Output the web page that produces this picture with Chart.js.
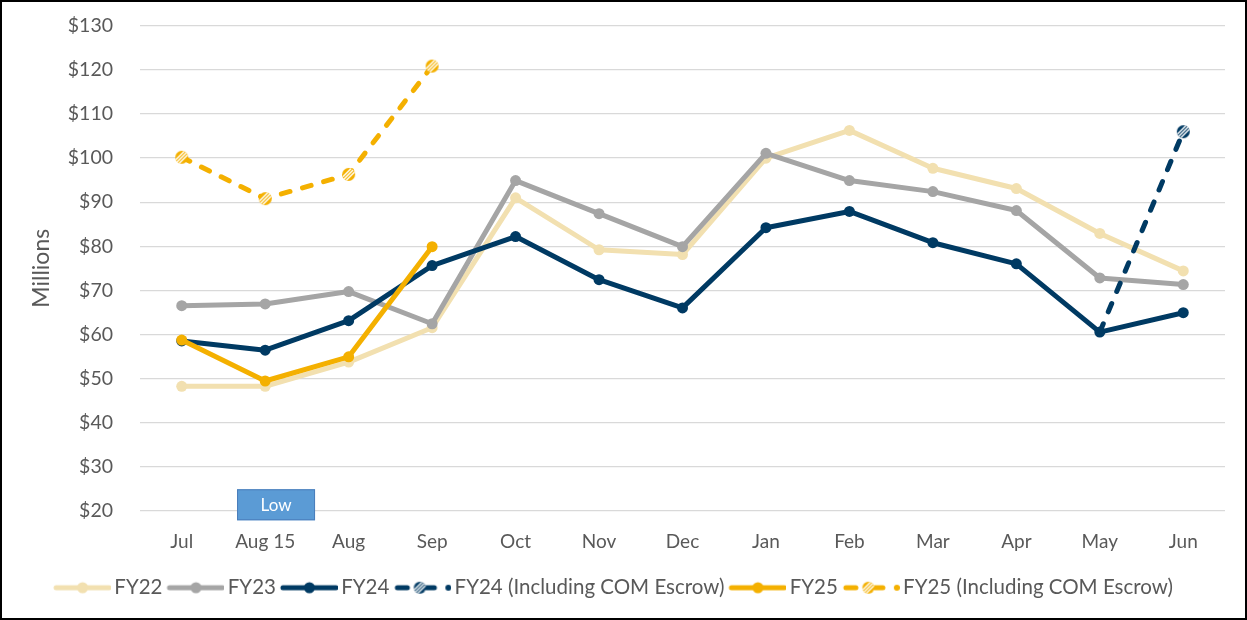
<!DOCTYPE html>
<html>
<head>
<meta charset="utf-8">
<script src="https://cdn.jsdelivr.net/npm/chart.js@4.4.1/dist/chart.umd.min.js"></script>
<style>
  html, body { margin: 0; padding: 0; background: #fff; }
  #frame { width: 1247px; height: 620px; box-sizing: border-box; border: 2px solid #000; }
  canvas { display: block; }
</style>
</head>
<body>
<div id="frame"><canvas id="chart" width="1243" height="616"></canvas></div>
<script>
// ---- data ($ millions) ----
const months = ["Jul", "Aug 15", "Aug", "Sep", "Oct", "Nov", "Dec", "Jan", "Feb", "Mar", "Apr", "May", "Jun"];

const fy22 = [48.2, 48.2, 53.7, 61.5, 91.0, 79.2, 78.1, 100.0, 106.3, 97.7, 93.1, 82.9, 74.4];
const fy23 = [66.5, 66.9, 69.7, 62.4, 94.9, 87.4, 79.9, 101.1, 94.9, 92.4, 88.1, 72.8, 71.3];
const fy24 = [58.5, 56.4, 63.1, 75.6, 82.2, 72.4, 66.0, 84.2, 87.9, 80.8, 76.0, 60.5, 64.9];
const fy24Escrow = [null, null, null, null, null, null, null, null, null, null, null, 60.5, 106.0];
const fy25 = [58.7, 49.4, 54.9, 79.9, null, null, null, null, null, null, null, null, null];
const fy25Escrow = [100.2, 90.8, 96.3, 120.9, null, null, null, null, null, null, null, null, null];

const seriesNames = ["FY22", "FY23", "FY24", "FY24 (Including COM Escrow)", "FY25", "FY25 (Including COM Escrow)"];

const yMin = 20;
const yMax = 130;
const yStep = 10;

const lowNote = { text: "Low", category: "Aug 15", value: 21.3 };

// ---- styling ----
const FONT = "Lato, 'Open Sans', sans-serif";
const TEXT = "#595959";
const C22 = "#F2E0B0";
const C23 = "#A5A5A5";
const C24 = "#003A63";
const C25 = "#F4B000";

// circle with white diagonal stripes, used for the escrow markers
function hatchedDot(color, r) {
  const c = document.createElement("canvas");
  c.width = c.height = r * 2 + 2;
  const g = c.getContext("2d");
  const m = r + 1;
  g.beginPath();
  g.arc(m, m, r, 0, Math.PI * 2);
  g.fillStyle = color;
  g.fill();
  g.save();
  g.clip();
  g.strokeStyle = "#fff";
  g.lineWidth = 1.4;
  for (const off of [-3.5, 0, 3.5]) {
    g.beginPath();
    g.moveTo(m - r + off, m + r);
    g.lineTo(m + r + off, m - r);
    g.stroke();
  }
  g.restore();
  return c;
}

// legend sample: line with marker; extra transparent pad on the left so the
// line runs closer to the label text
function legendSample(color, dashed) {
  const boxW = 50, pad = 7, h = 16;
  const c = document.createElement("canvas");
  c.width = boxW + pad * 2;
  c.height = h;
  const g = c.getContext("2d");
  const y = h / 2;
  const x0 = pad, x1 = pad + 57;
  g.strokeStyle = color;
  g.fillStyle = color;
  g.lineCap = "round";
  g.lineWidth = 5;
  if (!dashed) {
    g.beginPath(); g.moveTo(x0 + 2, y); g.lineTo(x1 - 2, y); g.stroke();
    g.beginPath(); g.arc((x0 + x1) / 2, y, 5.5, 0, Math.PI * 2); g.fill();
  } else {
    g.beginPath(); g.moveTo(x0 + 3, y); g.lineTo(x0 + 13, y); g.stroke();
    g.beginPath(); g.moveTo(x0 + 32, y); g.lineTo(x0 + 40, y); g.stroke();
    g.drawImage(hatchedDot(color, 6), (x0 + x1) / 2 - 7 - 3, y - 7);
    g.beginPath(); g.arc(x1 - 3, y, 3, 0, Math.PI * 2); g.fill();
  }
  return c;
}

const legendImages = [
  legendSample(C22, false),
  legendSample(C23, false),
  legendSample(C24, false),
  legendSample(C24, true),
  legendSample(C25, false),
  legendSample(C25, true),
];

function lineSet(label, data, color, order, dashed) {
  const ds = {
    label: label,
    data: data,
    borderColor: color,
    backgroundColor: color,
    borderWidth: 5,
    pointRadius: 5.5,
    pointHoverRadius: 5.5,
    pointBackgroundColor: color,
    pointBorderColor: color,
    pointBorderWidth: 0,
    borderCapStyle: "round",
    borderJoinStyle: "round",
    tension: 0,
    spanGaps: false,
    order: order,
  };
  if (dashed) {
    ds.borderDash = [9, 13];
    ds.pointStyle = hatchedDot(color, 6.5);
    // first point of the FY24 escrow line sits under the solid series marker
    ds.pointRadius = (ctx) => (ctx.dataIndex === data.findIndex(v => v !== null) && label.startsWith("FY24") ? 0 : 6);
  }
  return ds;
}

const lowNotePlugin = {
  id: "lowNote",
  afterDraw(chart) {
    const { ctx, scales: { x, y } } = chart;
    const cx = x.getPixelForValue(months.indexOf(lowNote.category) + 0.13);
    const cy = y.getPixelForValue(lowNote.value);
    const w = 78, h = 31;
    ctx.save();
    ctx.fillStyle = "#5B9BD5";
    ctx.strokeStyle = "#4A7EBB";
    ctx.lineWidth = 1;
    ctx.fillRect(cx - w / 2, cy - h / 2, w, h);
    ctx.strokeRect(cx - w / 2 + 0.5, cy - h / 2 + 0.5, w - 1, h - 1);
    ctx.fillStyle = "#fff";
    ctx.font = "17px " + FONT;
    ctx.textAlign = "center";
    ctx.textBaseline = "middle";
    ctx.fillText(lowNote.text, cx, cy + 1);
    ctx.restore();
  }
};

new Chart(document.getElementById("chart"), {
  type: "line",
  data: {
    labels: months,
    datasets: [
      lineSet(seriesNames[0], fy22, C22, 6, false),
      lineSet(seriesNames[1], fy23, C23, 5, false),
      lineSet(seriesNames[2], fy24, C24, 4, false),
      lineSet(seriesNames[3], fy24Escrow, C24, 3, true),
      lineSet(seriesNames[4], fy25, C25, 2, false),
      lineSet(seriesNames[5], fy25Escrow, C25, 1, true),
    ],
  },
  options: {
    responsive: false,
    animation: false,
    layout: { padding: { top: 24, right: 20, bottom: 10, left: 0 } },
    plugins: {
      legend: {
        position: "bottom",
        labels: {
          usePointStyle: true,
          pointStyleWidth: 50,
          padding: 5,
          color: TEXT,
          font: { family: FONT, size: 20.5 },
          sort: (a, b) => a.datasetIndex - b.datasetIndex,
          generateLabels: (chart) =>
            Chart.defaults.plugins.legend.labels.generateLabels(chart).map(item => ({
              ...item,
              pointStyle: legendImages[item.datasetIndex],
            })),
        },
      },
      tooltip: { enabled: false },
    },
    scales: {
      x: {
        offset: true,
        grid: { display: false, drawTicks: false },
        border: { display: false },
        ticks: { color: TEXT, font: { family: FONT, size: 19 }, padding: 20, maxRotation: 0 },
        afterFit: (scale) => { scale.height = 62; },
      },
      y: {
        min: yMin,
        max: yMax,
        grid: { color: "#D9D9D9", lineWidth: 1.3, drawTicks: true, tickLength: 27, tickColor: "rgba(0,0,0,0)" },
        border: { display: false },
        ticks: {
          stepSize: yStep,
          padding: 0,
          color: TEXT,
          font: { family: FONT, size: 19.5 },
          callback: (v) => "$" + v,
        },
        title: {
          display: true,
          text: "Millions",
          color: TEXT,
          font: { family: FONT, size: 23 },
          padding: { top: 26, bottom: 0 },
        },
        afterFit: (scale) => { scale.width = 138; },
      },
    },
  },
  plugins: [lowNotePlugin],
});
</script>
</body>
</html>
